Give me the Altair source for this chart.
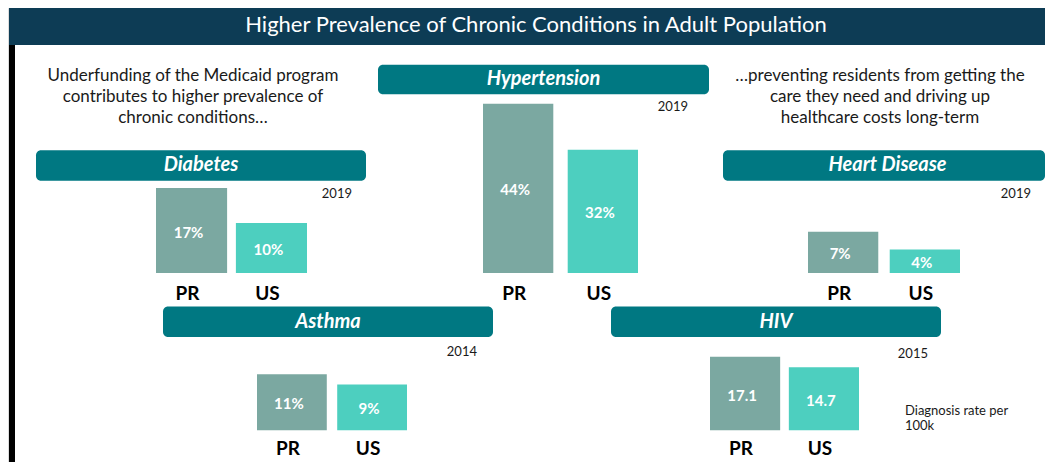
import altair as alt
import pandas as pd

# ---------------- data ----------------
title_text = "Higher Prevalence of Chronic Conditions in Adult Population"
left_note = ["Underfunding of the Medicaid program",
             "contributes to higher prevalence of",
             "chronic conditions…"]
right_note = ["…preventing residents from getting the",
              "care they need and driving up",
              "healthcare costs long-term"]
panels = ["Diabetes", "Hypertension", "Heart Disease", "Asthma", "HIV"]
years = ["2019", "2019", "2019", "2014", "2015"]
regions = ["PR", "US"]
pr_values = [17, 44, 7, 11, 17.1]
us_values = [10, 32, 4, 9, 14.7]
pr_labels = ["17%", "44%", "7%", "11%", "17.1"]
us_labels = ["10%", "32%", "4%", "9%", "14.7"]
hiv_note = ["Diagnosis rate per", "100k"]

# ---------------- style / layout ----------------
NAVY = "#0d3c55"
TEAL = "#007882"
PR_COLOR = "#7ba8a1"
US_COLOR = "#4dcfbf"
FONT = "Lato"
W, H = 1037, 454


def X(v):
    return min(v - 8, W)


def Y(v):
    return (v - 8) - 7.0 * max(0, v - 45) / 412.0


# banner box, bar x-range, inner padding, baseline, px per unit, year pos, label row
layout = [
    dict(b=(36, 366, 152, 183), bx=(156, 307), pad=0.11, base=277, k=5.0, yr=(352, 197), lab=298),
    dict(b=(378, 709, 65, 95), bx=(483, 638), pad=0.17, base=277, k=3.85, yr=(688, 108), lab=298),
    dict(b=(723, 1052, 152, 183), bx=(808, 960), pad=0.14, base=277, k=5.9, yr=(1031, 197), lab=298),
    dict(b=(163, 493, 311, 342), bx=(257, 407), pad=0.13, base=437, k=5.1, yr=(477, 357), lab=457),
    dict(b=(611, 941, 311, 342), bx=(710, 859), pad=0.11, base=437, k=4.3, yr=(928, 359), lab=457),
]

one = alt.Data(values=[{"a": 1}])


def deco_rect(x0, x1, y0, y1, color, radius=0):
    return alt.Chart(one).mark_rect(color=color, cornerRadius=radius).encode(
        x=alt.value(x0), x2=alt.value(x1), y=alt.value(y0), y2=alt.value(y1))


def deco_text(txt, x, y, size, color="black", weight="normal", style="normal", align="center"):
    return alt.Chart(one).mark_text(
        text=txt, font=FONT, fontSize=size, color=color, fontWeight=weight,
        fontStyle=style, align=align, baseline="middle").encode(
        x=alt.value(x), y=alt.value(y))


layers = []
# title bar and left rule
layers.append(deco_rect(X(9), W, 0, Y(45), NAVY))
layers.append(deco_text(title_text, X(536), 17, 22, color="white"))
layers.append(deco_rect(X(9), X(15), Y(45), H, "black"))

# notes
for j, line in enumerate(left_note):
    layers.append(deco_text(line, X(193), Y(77 + 21 * j), 17, color="#1a1a1a"))
for j, line in enumerate(right_note):
    layers.append(deco_text(line, X(880), Y(77 + 21 * j), 17, color="#1a1a1a"))
for j, line in enumerate(hiv_note):
    layers.append(deco_text(line, X(905), Y(417 + 16 * j), 13, color="#1a1a1a", align="left"))

panel_layers = []
for i, lay in enumerate(layout):
    bx0, bx1, by0, by1 = lay["b"]
    layers.append(deco_rect(X(bx0), X(bx1), Y(by0), Y(by1), TEAL, radius=5))
    layers.append(deco_text(panels[i], (X(bx0) + (bx1 - 8)) / 2, Y((by0 + by1) / 2), 20,
                            color="white", weight="bold", style="italic"))
    layers.append(deco_text(years[i], X(lay["yr"][0]), Y(lay["yr"][1]), 13,
                            color="#1a1a1a", align="right"))

    df = pd.DataFrame({"region": regions,
                       "value": [pr_values[i], us_values[i]],
                       "label": [pr_labels[i], us_labels[i]]})
    top = max(pr_values[i], us_values[i])
    base = Y(lay["base"])
    xs = alt.Scale(domain=regions, range=[X(lay["bx"][0]), X(lay["bx"][1])],
                   paddingInner=lay["pad"], paddingOuter=0)
    ys = alt.Scale(domain=[0, top], range=[base, base - lay["k"] * top], nice=False)
    xenc = alt.X("region:N", scale=xs, axis=None, sort=regions)
    bars = alt.Chart(df).mark_bar().encode(
        x=xenc,
        y=alt.Y("value:Q", scale=ys, axis=None),
        color=alt.Color("region:N", scale=alt.Scale(domain=regions, range=[PR_COLOR, US_COLOR]),
                        legend=None))
    vals = alt.Chart(df).transform_calculate(mid="datum.value / 2").mark_text(
        font=FONT, fontSize=15, fontWeight="bold", color="white", baseline="middle", dx=-3, dy=2
    ).encode(x=xenc, y=alt.Y("mid:Q", scale=ys, axis=None), text="label:N")
    cats = alt.Chart(df).mark_text(
        font=FONT, fontSize=19, fontWeight="bold", color="black", baseline="middle", dx=-4
    ).encode(x=xenc, y=alt.value(min(Y(lay["lab"]), 441)), text="region:N")
    panel_layers.append(alt.layer(bars, vals, cats))

chart = alt.layer(*layers, *panel_layers).resolve_scale(
    x="independent", y="independent"
).properties(
    width=W, height=H, padding=0, autosize="none"
).configure_view(stroke=None).configure(background="white")

chart.save("out.html", embed_options={"renderer": "svg", "actions": False})
